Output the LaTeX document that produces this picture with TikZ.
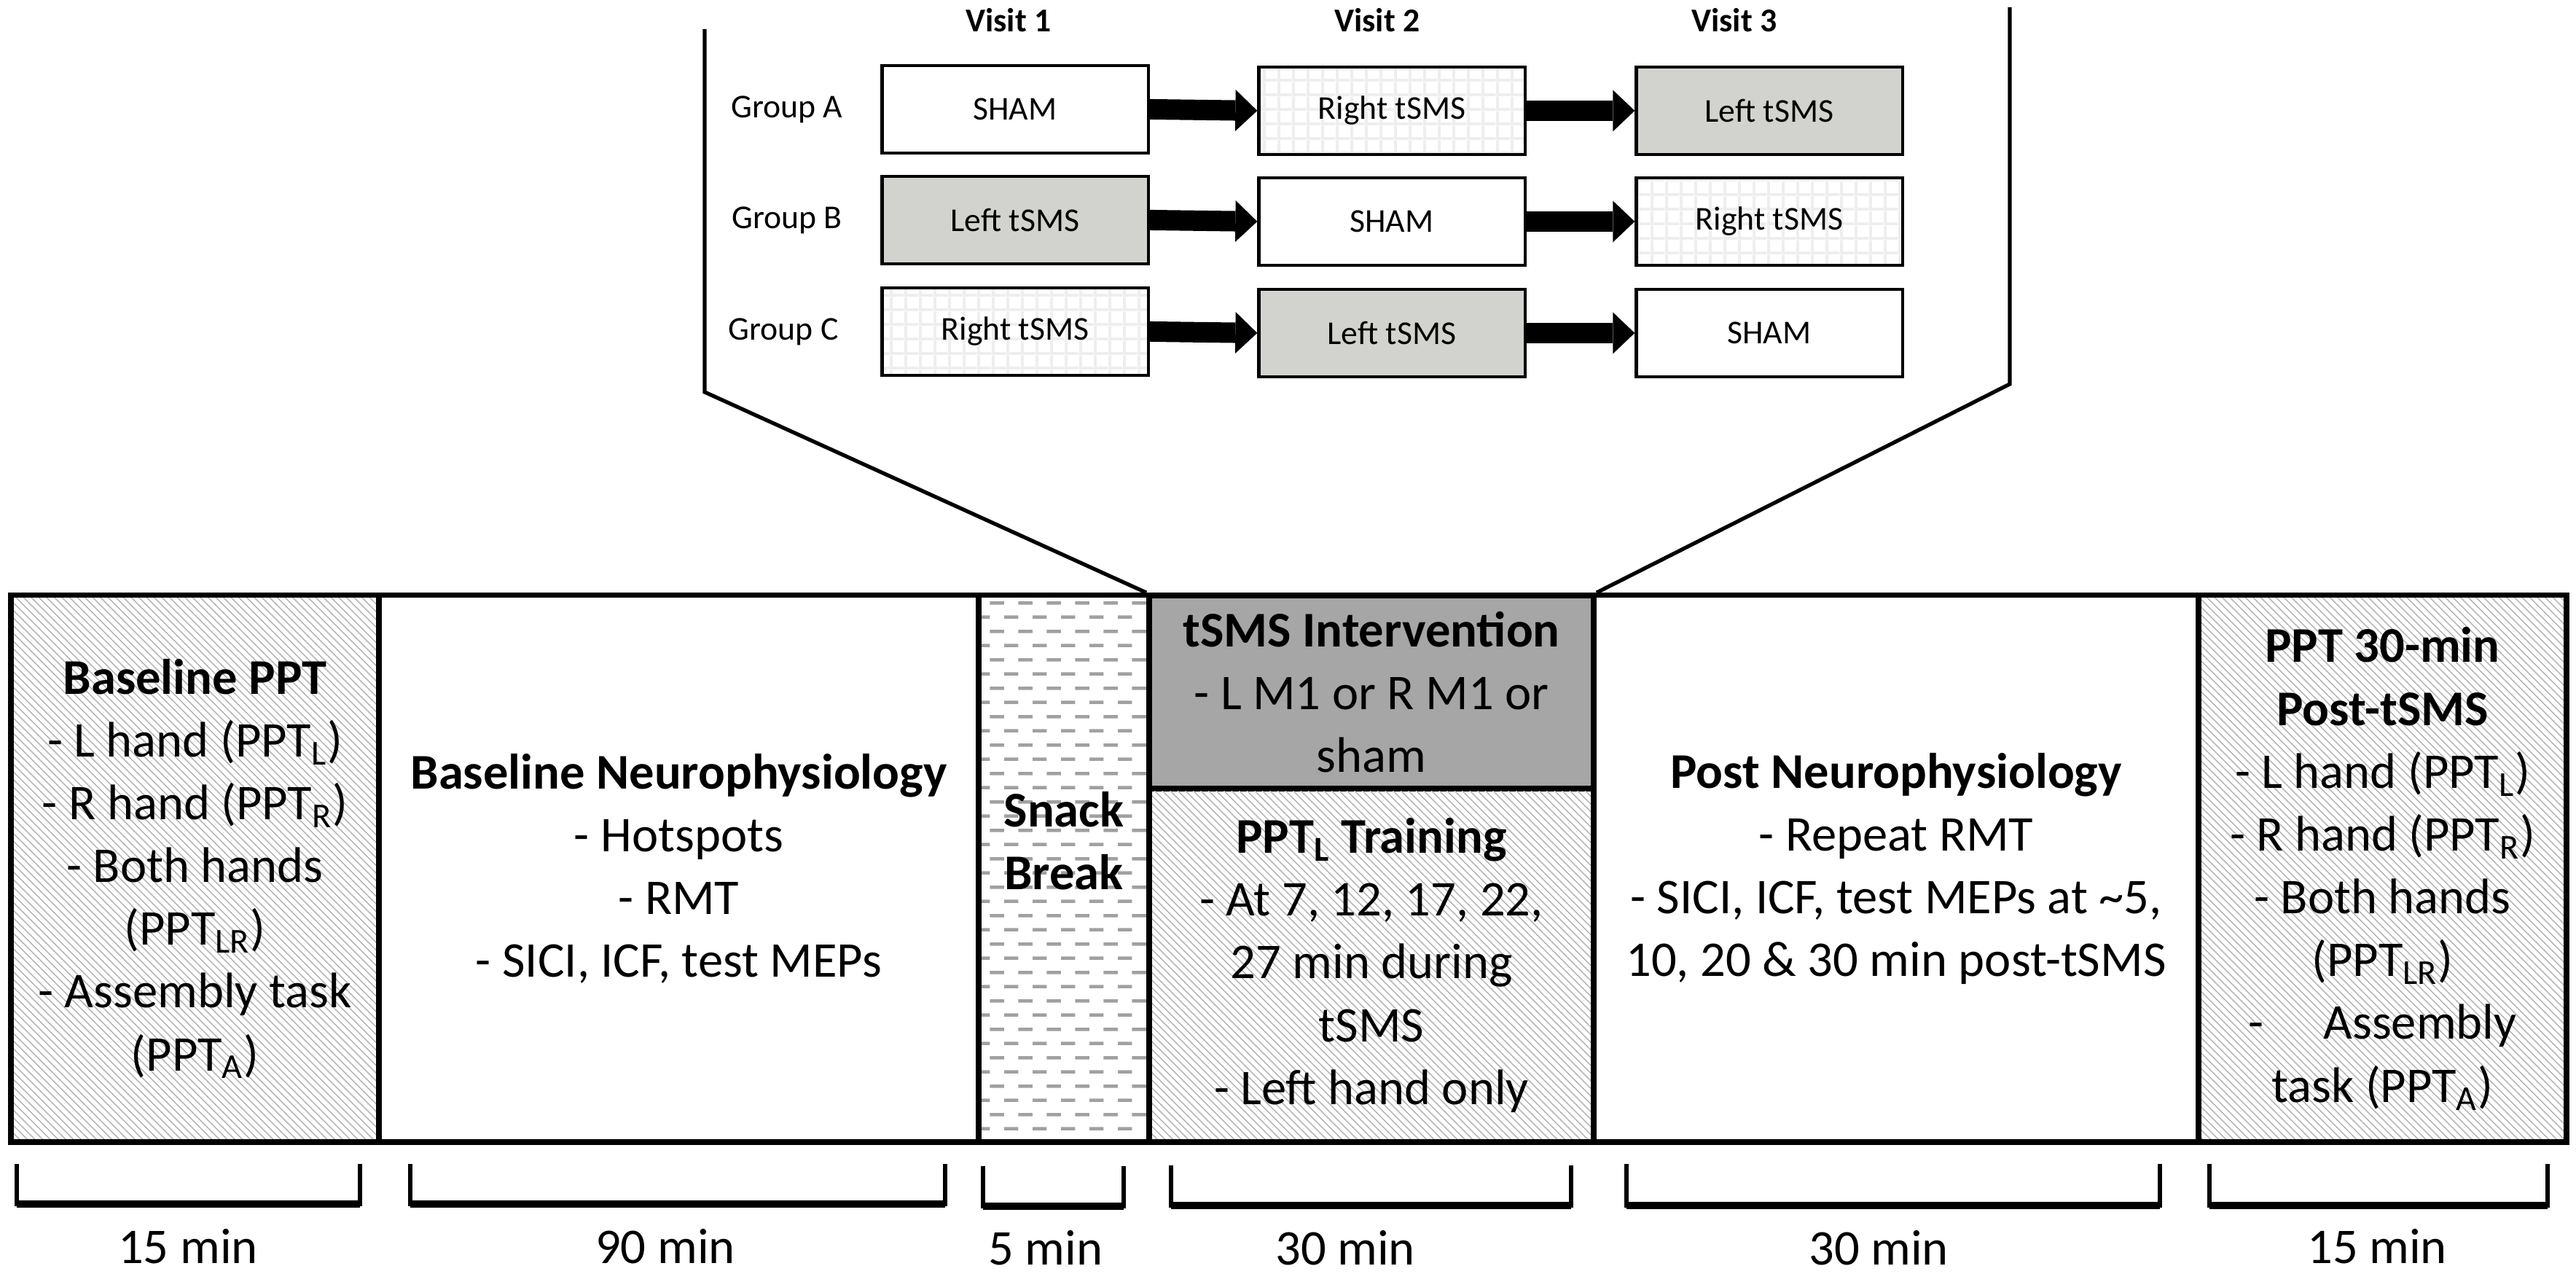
\documentclass[tikz,border=0pt]{standalone}
\usepackage{fontspec}
\setmainfont{Carlito}
\usetikzlibrary{patterns,arrows.meta,positioning}

\definecolor{boxgray}{RGB}{210,210,206}
\definecolor{intgray}{RGB}{166,166,166}
\definecolor{hatchgray}{RGB}{178,178,178}
\definecolor{dashgray}{RGB}{160,160,160}
\definecolor{gridgray}{RGB}{238,238,238}

% short grey dashes of the snack break
\pgfdeclarepatternformonly{snackdash}{\pgfpointorigin}{\pgfqpoint{11.2pt}{11.2pt}}{\pgfqpoint{11.2pt}{11.2pt}}{
  \pgfpathrectangle{\pgfqpoint{0pt}{0pt}}{\pgfqpoint{5.6pt}{1.3pt}}
  \pgfpathrectangle{\pgfqpoint{5.6pt}{5.6pt}}{\pgfqpoint{5.6pt}{1.3pt}}
  \pgfusepath{fill}
}
% faint grid of the right tSMS boxes
\pgfdeclarepatternformonly{visitgrid}{\pgfpointorigin}{\pgfqpoint{5.6pt}{5.6pt}}{\pgfqpoint{5.6pt}{5.6pt}}{
  \pgfpathrectangle{\pgfpointorigin}{\pgfqpoint{1.1pt}{5.6pt}}
  \pgfpathrectangle{\pgfpointorigin}{\pgfqpoint{5.6pt}{1.1pt}}
  \pgfusepath{fill}
}

\tikzset{
  stage/.style={draw, line width=2.1pt, inner sep=0pt, align=center,
    font=\fontsize{19.5}{24.5}\selectfont},
  hatched/.style={pattern=north west lines, pattern color=hatchgray},
  visitbox/.style={draw, line width=1.2pt, minimum width=3.65cm, minimum height=1.2cm,
    inner sep=0pt, font=\fontsize{13}{15}\selectfont},
  gridded/.style={pattern=visitgrid, pattern color=gridgray},
  shaded/.style={fill=boxgray},
  nextvisit/.style={line width=0.28cm, -{Triangle[length=0.3cm, width=0.57cm, line width=0pt]}},
  zoomline/.style={line width=1.5pt},
  brackarm/.style={line width=1.8pt},
  brackbase/.style={line width=2.6pt},
  durlabel/.style={font=\fontsize{19.5}{22}\selectfont},
}

\begin{document}
\begin{tikzpicture}[x=0.01cm, y=-0.01cm]
    % Фон і межі
    \fill[white] (0,0) rectangle (3535,1745);

    % Візити
    \node[font=\fontsize{13}{15}\selectfont\bfseries] (v1) at (1384,26) {Visit 1};
    \node[font=\fontsize{13}{15}\selectfont\bfseries] (v2) at (1890,26) {Visit 2};
    \node[font=\fontsize{13}{15}\selectfont\bfseries] (v3) at (2380,26) {Visit 3};

    % Групи
    \node[font=\fontsize{13}{15}\selectfont] (ga) at (1080,148) {Group A};
    \node[font=\fontsize{13}{15}\selectfont] (gb) at (1080,300) {Group B};
    \node[font=\fontsize{13}{15}\selectfont] (gc) at (1075,453) {Group C};

    % Порядок втручань
    \node[visitbox] (a1) at (1393,148) {SHAM};
    \node[visitbox, gridded] (a2) at (1910,150) {Right tSMS};
    \node[visitbox, shaded] (a3) at (2428,150) {Left tSMS};
    \node[visitbox, shaded] (b1) at (1393,300) {Left tSMS};
    \node[visitbox] (b2) at (1910,302) {SHAM};
    \node[visitbox, gridded] (b3) at (2428,302) {Right tSMS};
    \node[visitbox, gridded] (c1) at (1393,453) {Right tSMS};
    \node[visitbox, shaded] (c2) at (1910,455) {Left tSMS};
    \node[visitbox] (c3) at (2428,455) {SHAM};

    \draw[nextvisit] (a1.east) -- (a2.west);
    \draw[nextvisit] (a2.east) -- (a3.west);
    \draw[nextvisit] (b1.east) -- (b2.west);
    \draw[nextvisit] (b2.east) -- (b3.west);
    \draw[nextvisit] (c1.east) -- (c2.west);
    \draw[nextvisit] (c2.east) -- (c3.west);

    % Етапи сесії
    \node[stage, hatched, minimum width=5.05cm, minimum height=7.5cm] (bppt) at (267.5,1190)
      {\textbf{Baseline PPT}\\- L hand (PPT\textsubscript{L})\\- R hand (PPT\textsubscript{R})\\- Both hands\\(PPT\textsubscript{LR})\\- Assembly task\\(PPT\textsubscript{A})};
    \node[stage, minimum width=8.23cm, minimum height=7.5cm] (bneuro) at (931.5,1190)
      {\textbf{Baseline Neurophysiology}\\- Hotspots\\- RMT\\- SICI, ICF, test MEPs};
    \node[stage, pattern=snackdash, pattern color=dashgray, minimum width=2.34cm, minimum height=7.5cm] (snack) at (1460,1190) {};
    \node[align=center, font=\fontsize{19.5}{24.5}\selectfont\bfseries] (snacktxt) at (1460,1152) {Snack\\Break};
    \node[stage, fill=intgray, minimum width=6.1cm, minimum height=2.65cm] (tsms) at (1882,947.5)
      {\textbf{tSMS Intervention}\\- L M1 or R M1 or\\sham};
    \node[stage, hatched, minimum width=6.1cm, minimum height=4.85cm] (train) at (1882,1322.5)
      {\textbf{PPT\textsubscript{L} Training}\\- At 7, 12, 17, 22,\\27 min during\\tSMS\\- Left hand only};
    \node[stage, minimum width=8.3cm, minimum height=7.5cm] (postneuro) at (2602,1190)
      {\textbf{Post Neurophysiology}\\- Repeat RMT\\- SICI, ICF, test MEPs at \textasciitilde5,\\10, 20 \& 30 min post-tSMS};
    \node[stage, hatched, minimum width=5.05cm, minimum height=7.5cm] (postppt) at (3269.5,1190)
      {\textbf{PPT 30-min}\\\textbf{Post-tSMS}\\- L hand (PPT\textsubscript{L})\\- R hand (PPT\textsubscript{R})\\- Both hands\\(PPT\textsubscript{LR})\\-\hspace{1.2em}Assembly\\task (PPT\textsubscript{A})};

    % Лінії збільшення
    \coordinate (zl) at (967,536);
    \coordinate (zltop) at (967,38);
    \coordinate (zr) at (2758,525);
    \coordinate (zrtop) at (2758,8);
    \draw[zoomline] (tsms.north west) -- (zl) -- (zltop);
    \draw[zoomline] (tsms.north east) -- (zr) -- (zrtop);

    % Тривалість
    \draw[brackarm] (23,1595) -- (23,1650) -| (494,1595);
    \draw[brackbase] (23,1650) -- (494,1650);
    \draw[brackarm] (563,1595) -- (563,1650) -| (1297,1595);
    \draw[brackbase] (563,1650) -- (1297,1650);
    \draw[brackarm] (1349,1598) -- (1349,1653) -| (1542,1598);
    \draw[brackbase] (1349,1653) -- (1542,1653);
    \draw[brackarm] (1607,1597) -- (1607,1652) -| (2156,1597);
    \draw[brackbase] (1607,1652) -- (2156,1652);
    \draw[brackarm] (2232,1595) -- (2232,1652) -| (2964,1595);
    \draw[brackbase] (2232,1652) -- (2964,1652);
    \draw[brackarm] (3032,1595) -- (3032,1652) -| (3496,1595);
    \draw[brackbase] (3032,1652) -- (3496,1652);

    \node[durlabel] (d1) at (258,1708) {15 min};
    \node[durlabel] (d2) at (913,1708) {90 min};
    \node[durlabel] (d3) at (1435,1710) {5 min};
    \node[durlabel] (d4) at (1846,1710) {30 min};
    \node[durlabel] (d5) at (2578,1710) {30 min};
    \node[durlabel] (d6) at (3262,1708) {15 min};
\end{tikzpicture}
\end{document}
